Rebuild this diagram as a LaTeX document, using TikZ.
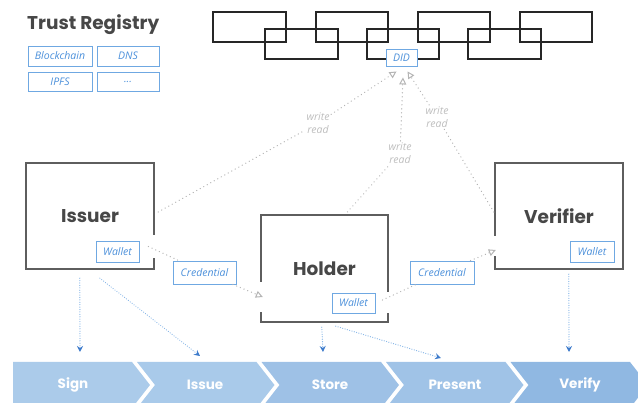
\documentclass[tikz,border=0pt]{standalone}
\usepackage{fontspec}
\setmainfont{Lato}
\newfontfamily\headfont{Poppins}
\newfontfamily\tagfont{Open Sans}
\usetikzlibrary{arrows.meta,calc}

\definecolor{titlegray}{HTML}{474747}
\definecolor{boxgray}{HTML}{5E5E5E}
\definecolor{chainblack}{HTML}{262626}
\definecolor{bluetext}{HTML}{4A8FDA}
\definecolor{blueline}{HTML}{6FA8E2}
\definecolor{conngray}{HTML}{B4B4B4}
\definecolor{lblgray}{HTML}{BDBDBD}
\definecolor{dotblue}{HTML}{8CB9E8}
\definecolor{arrowblue}{HTML}{3D7BCB}
\definecolor{chevA}{HTML}{ABCBEA}
\definecolor{chevB}{HTML}{A9CAEA}
\definecolor{chevC}{HTML}{9EC1E6}
\definecolor{chevD}{HTML}{A0C3E7}
\definecolor{chevE}{HTML}{90B8E2}

\tikzset{
  mainbox/.style={minimum width=128, minimum height=106, inner sep=0pt,
    text=titlegray, font=\headfont\bfseries\fontsize{18.5}{23}\selectfont},
  boxedge/.style={draw=boxgray, line width=1.6pt},
  tagbox/.style={draw=blueline, line width=0.9pt, text=bluetext, inner sep=0pt,
    font=\tagfont\itshape\fontsize{10.5}{12}\selectfont, minimum height=20},
  chainlink/.style={draw=chainblack, line width=1.6pt},
  wrlabel/.style={text=lblgray, align=center, inner sep=1.5pt,
    font=\tagfont\itshape\fontsize{10.5}{13}\selectfont},
  gconn/.style={draw=conngray, line width=1.4pt, line cap=round,
    dash pattern=on 0.01pt off 4pt},
  gtip/.style={-{Triangle[open, length=7pt, width=7pt, line width=1pt, color=conngray]}},
  bconn/.style={draw=dotblue, line width=1.3pt, line cap=round,
    dash pattern=on 0.01pt off 2.4pt,
    -{Stealth[length=6pt, width=6pt, color=arrowblue]}},
  chevtxt/.style={text=white, font=\headfont\bfseries\fontsize{13.5}{16}\selectfont, inner sep=0pt},
}

\begin{document}
\begin{tikzpicture}[x=1pt, y=-1pt]
\useasboundingbox (0,0) rectangle (638,403);
\clip (0,0) rectangle (638,403);

% ---------- trust registry ----------
\node[anchor=base west, inner sep=0pt, text=titlegray,
  font=\headfont\bfseries\fontsize{18.5}{22}\selectfont] (title) at (27,29.5) {Trust Registry};
\node[tagbox, minimum width=64] (chainreg) at (60,56) {Blockchain};
\node[tagbox, minimum width=62] (dns) at (128,56) {DNS};
\node[tagbox, minimum width=64, minimum height=19] (ipfs) at (60,81.5) {IPFS};
\node[tagbox, minimum width=62, minimum height=19] (more) at (128,81.5) {...};

% ---------- ledger chain ----------
\draw[chainlink] (213,12) rectangle (286,42);
\draw[chainlink] (316,12) rectangle (388,42);
\draw[chainlink] (418,12) rectangle (490,42);
\draw[chainlink] (520,12) rectangle (592,42);
\draw[chainlink] (265,29) rectangle (338,59);
\draw[chainlink] (367,29) rectangle (439,59);
\draw[chainlink] (468,29) rectangle (541,59);
\node[tagbox, fill=white, minimum width=31, minimum height=17] (did) at (401.5,57.5) {DID};

% ---------- roles ----------
\node[mainbox] (issuer) at (90,216) {Issuer};
\node[mainbox, minimum width=127, minimum height=107] (holder) at (324.5,268.5) {Holder};
\node[mainbox] (verifier) at (559,216) {Verifier};

% box outlines, left open where the credential links pass
\draw[boxedge] ($(issuer.north east)+(0,72)$) -- (issuer.north east) -- (issuer.north west)
  -- (issuer.south west) -- (issuer.south east) -- ++(0,-11);
\draw[boxedge] ($(holder.north west)+(0,67)$) -- (holder.north west) -- (holder.north east)
  -- ++(0,77);
\draw[boxedge] ($(holder.south west)+(0,-10)$) -- (holder.south west) -- (holder.south east)
  -- ++(0,-9);
\draw[boxedge] ($(verifier.north west)+(0,73)$) -- (verifier.north west) -- (verifier.north east)
  -- (verifier.south east) -- (verifier.south west) -- ++(0,-13);

\node[tagbox, minimum width=43, minimum height=21] (iwallet) at (117.5,251.5) {Wallet};
\node[tagbox, minimum width=43] (hwallet) at (353.5,303) {Wallet};
\node[tagbox, minimum width=44, minimum height=21] (vwallet) at (592,251.5) {Wallet};

\node[tagbox, minimum width=63, minimum height=23] (cred1) at (204.5,272.5) {Credential};
\node[tagbox, minimum width=64, minimum height=23] (cred2) at (442,272.5) {Credential};

% ---------- write / read labels ----------
\node[wrlabel] (wr1) at (318,123) {write\\read};
\node[wrlabel] (wr2) at (400,153) {write\\read};
\node[wrlabel] (wr3) at (437,117) {write\\read};

\coordinate (didL) at ($(did.south)+(-5,5)$);
\coordinate (didM) at ($(did.south)+(1.5,11)$);
\coordinate (didR) at ($(did.south)+(6,5)$);

\draw[gconn] ($(issuer.east)+(4,-4)$) -- (wr1);
\draw[gconn, gtip] (wr1) -- (didL);
\draw[gconn] ($(holder.north)+(23,-3)$) -- (wr2);
\draw[gconn, gtip] (wr2) -- (didM);
\draw[gconn] ($(verifier.west)+(-1,-4)$) -- (wr3);
\draw[gconn, gtip] (wr3) -- (didR);

% ---------- credential flow ----------
\coordinate (hin) at ($(holder.west)+(2,28.5)$);
\coordinate (vin) at ($(verifier.west)+(1,34)$);
\draw[gconn] ($(iwallet.north east)+(9,6)$) -- (cred1);
\draw[gconn, gtip] (cred1) -- (hin);
\draw[gconn] ($(hwallet.east)+(7,-3)$) -- (cred2);
\draw[gconn, gtip] (cred2) -- (vin);

% ---------- process chevrons ----------
\fill[chevA] (13,362) -- (132,362) -- (150,385) -- (132,408) -- (13,408) -- cycle;
\fill[chevB] (137,362) -- (256.5,362) -- (274.5,385) -- (256.5,408) -- (137,408) -- (155,385) -- cycle;
\fill[chevC] (261.5,362) -- (381,362) -- (399,385) -- (381,408) -- (261.5,408) -- (279.5,385) -- cycle;
\fill[chevD] (386,362) -- (505.5,362) -- (523.5,385) -- (505.5,408) -- (386,408) -- (404,385) -- cycle;
\fill[chevE] (510.5,362) -- (630,362) -- (648,385) -- (630,408) -- (510.5,408) -- (528.5,385) -- cycle;

\node[chevtxt] (sign) at (73,385) {Sign};
\node[chevtxt] (issue) at (205,385) {Issue};
\node[chevtxt] (store) at (330,385) {Store};
\node[chevtxt] (present) at (455,385) {Present};
\node[chevtxt] (verify) at (580,385) {Verify};

\coordinate (tsign) at (80,352);
\coordinate (tissue) at (200,356);
\coordinate (tstore) at (323,352);
\coordinate (tpresent) at (441,358);
\coordinate (tverify) at (569,352);

\draw[bconn] ($(issuer.south west)+(54,9)$) -- (tsign);
\draw[bconn] ($(issuer.south west)+(74,9)$) -- (tissue);
\draw[bconn] ($(holder.south west)+(61,5)$) -- (tstore);
\draw[bconn] ($(holder.south west)+(75,4)$) -- (tpresent);
\draw[bconn] ($(verifier.south west)+(74,5)$) -- (tverify);
\end{tikzpicture}
\end{document}
